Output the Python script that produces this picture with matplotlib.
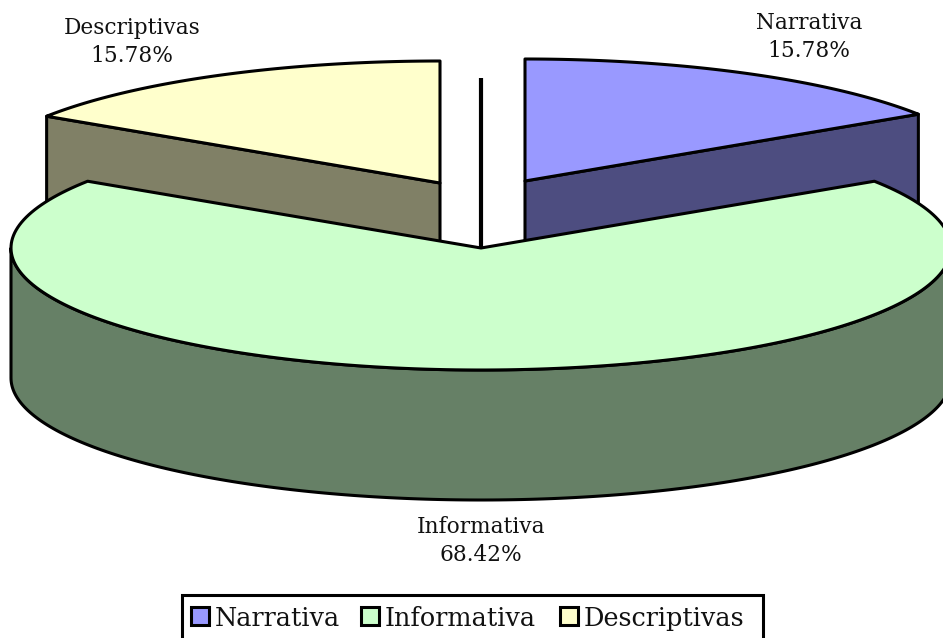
import numpy as np
import matplotlib
matplotlib.use("Agg")
import matplotlib.pyplot as plt
from matplotlib.patches import Polygon, Rectangle

categories = ["Narrativa", "Informativa", "Descriptivas"]
percent = [15.78, 68.42, 15.78]
percent_labels = ["15.78%", "68.42%", "15.78%"]
top_colors = ["#9999FF", "#CCFFCC", "#FFFFCC"]
side_colors = ["#4D4D80", "#668066", "#808066"]

# pixel layout of the fake 3d pie
rx, ry = 470, 122
depth = 130
centers = [(525, 181), (481, 248), (440, 183)]
label_pos = [(809, 37), (481, 541), (132, 42)]
label_size = 15.6
lw = 2.2


def rim(c, a0, a1, n=200):
    # angle in degrees, clockwise from the top of the pie
    t = np.radians(np.linspace(a0, a1, n))
    return np.column_stack([c[0] + rx * np.sin(t), c[1] - ry * np.cos(t)])


fig = plt.figure(figsize=(9.43, 6.38), dpi=100)
ax = fig.add_axes([0, 0, 1, 1])
ax.set_xlim(0, 943)
ax.set_ylim(638, 0)
ax.axis("off")

# slice limits, scaled so the rounded percentages close the circle
angles = np.cumsum([0] + percent) / sum(percent) * 360


def cut_wall(c, a, color):
    # flat wall from the pie centre out to the rim at angle a
    p = rim(c, a, a, 1)[0]
    pts = [c, p, (p[0], p[1] + depth), (c[0], c[1] + depth)]
    ax.add_patch(Polygon(pts, closed=True, fc=color, ec="black", lw=lw, joinstyle="round"))


# back slices first
cut_wall(centers[0], angles[1], side_colors[0])
cut_wall(centers[2], angles[2], side_colors[2])
for i in [0, 2]:
    pts = np.vstack([[centers[i]], rim(centers[i], angles[i], angles[i + 1])])
    ax.add_patch(Polygon(pts, closed=True, fc=top_colors[i], ec="black", lw=lw, joinstyle="round"))

# line behind the gap
c = centers[1]
ax.plot([c[0], c[0]], [78, c[1]], color="black", lw=3, solid_capstyle="butt")

# big slice: outer wall then top
front = rim(c, 90, 270)
wall = np.vstack([front, (front + [0, depth])[::-1]])
ax.add_patch(Polygon(wall, closed=True, fc=side_colors[1], ec="black", lw=lw, joinstyle="round"))
pts = np.vstack([[c], rim(c, angles[1], angles[2])])
ax.add_patch(Polygon(pts, closed=True, fc=top_colors[1], ec="black", lw=lw, joinstyle="round"))

for i, name in enumerate(categories):
    ax.text(label_pos[i][0], label_pos[i][1], name + "\n" + percent_labels[i], family="DejaVu Serif",
            fontsize=label_size, ha="center", va="center", linespacing=1.38, color="#111111")

# legend box, runs off the bottom of the picture
ax.add_patch(Rectangle((182, 595), 581, 60, fc="white", ec="black", lw=2.2))
key_x = [191, 361, 560]
text_x = [215, 385, 584]
for i, name in enumerate(categories):
    ax.add_patch(Rectangle((key_x[i], 607), 18, 18, fc=top_colors[i], ec="black", lw=2.2))
    ax.text(text_x[i], 626, name, family="DejaVu Serif", fontsize=18.4, ha="left", va="baseline", color="#111111")

fig.savefig("out.png", dpi=100)
